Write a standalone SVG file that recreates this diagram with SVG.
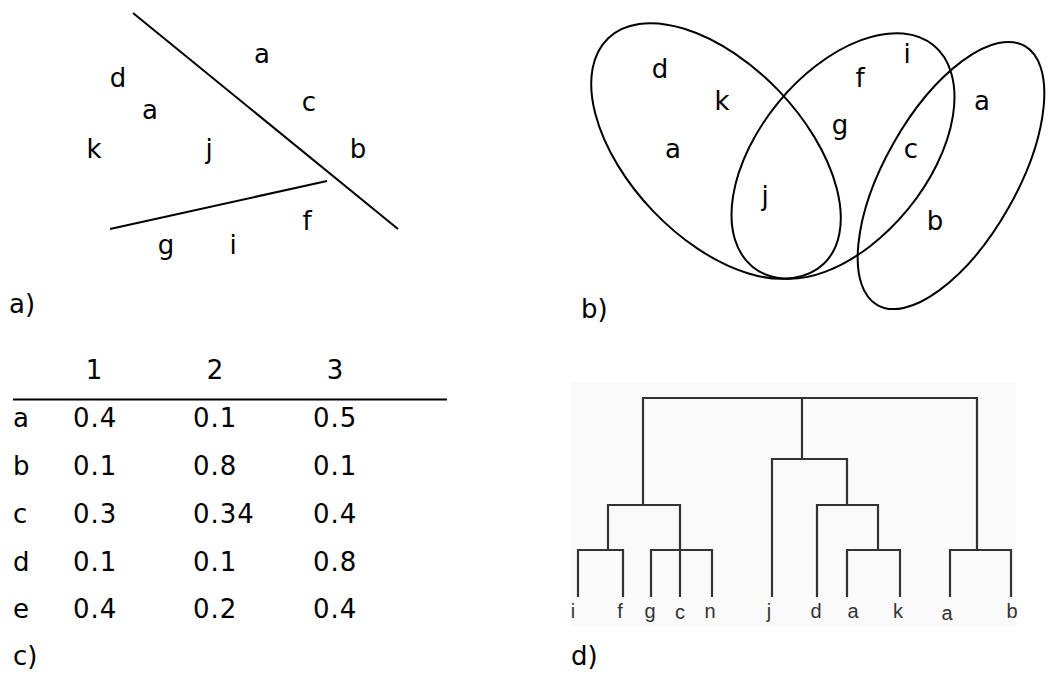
<svg xmlns="http://www.w3.org/2000/svg" width="1048" height="675" viewBox="0 0 1048 675">
<style>
.t{font-family:"DejaVu Sans",Verdana,sans-serif;font-size:26px;fill:#000}
.m{text-anchor:middle}
.n{letter-spacing:1px}
.ln{stroke:#000;stroke-width:2;fill:none}
.el{stroke:#000;stroke-width:2;fill:none}
.dg{stroke:#333;stroke-width:2.2;fill:none;stroke-linecap:square}
.dl{font-family:"Liberation Sans",Arial,sans-serif;font-size:20px;fill:#333;text-anchor:middle}
</style>
<rect width="1048" height="675" fill="#fff"/>

<g id="panel-a">
  <g id="a-lines">
    <line class="ln" x1="133" y1="13" x2="398" y2="229"/>
    <line class="ln" x1="110" y1="229" x2="327" y2="181"/>
  </g>
  <g id="a-labels" class="t m">
    <text x="262" y="63">a</text>
    <text x="118" y="87">d</text>
    <text x="309" y="111">c</text>
    <text x="150" y="119">a</text>
    <text x="94" y="158">k</text>
    <text x="209" y="158">j</text>
    <text x="358" y="158">b</text>
    <text x="307" y="230">f</text>
    <text x="166" y="254">g</text>
    <text x="233" y="254">i</text>
  </g>
  <text class="t" x="9" y="313">a)</text>
</g>

<g id="panel-b">
  <g id="b-sets">
    <ellipse id="set1" class="el" cx="716" cy="151" rx="156" ry="87" transform="rotate(46.3 716 151)"/>
    <ellipse id="set2" class="el" cx="843" cy="156" rx="143" ry="84" transform="rotate(-50.7 843 156)"/>
    <ellipse id="set3" class="el" cx="951" cy="175.5" rx="149" ry="66" transform="rotate(-60.4 951 175.5)"/>
  </g>
  <g id="b-labels" class="t m">
    <text x="660" y="78">d</text>
    <text x="722" y="110">k</text>
    <text x="673" y="158">a</text>
    <text x="765" y="205">j</text>
    <text x="860" y="87">f</text>
    <text x="907" y="63">i</text>
    <text x="840" y="134">g</text>
    <text x="911" y="158">c</text>
    <text x="982" y="110">a</text>
    <text x="935" y="230">b</text>
  </g>
  <text class="t" x="581" y="318">b)</text>
</g>

<g id="panel-c" class="t">
  <g id="c-header" class="m">
    <text x="94" y="379">1</text>
    <text x="215" y="379">2</text>
    <text x="335" y="379">3</text>
  </g>
  <line x1="13" y1="399.5" x2="447" y2="399.5" stroke="#000" stroke-width="2"/>
  <g id="row-a"><text x="13" y="427">a</text><text class="n" x="73" y="427">0.4</text><text class="n" x="193" y="427">0.1</text><text class="n" x="313" y="427">0.5</text></g>
  <g id="row-b"><text x="13" y="475">b</text><text class="n" x="73" y="475">0.1</text><text class="n" x="193" y="475">0.8</text><text class="n" x="313" y="475">0.1</text></g>
  <g id="row-c"><text x="13" y="523">c</text><text class="n" x="73" y="523">0.3</text><text class="n" x="193" y="523">0.34</text><text class="n" x="313" y="523">0.4</text></g>
  <g id="row-d"><text x="13" y="571">d</text><text class="n" x="73" y="571">0.1</text><text class="n" x="193" y="571">0.1</text><text class="n" x="313" y="571">0.8</text></g>
  <g id="row-e"><text x="13" y="618">e</text><text class="n" x="73" y="618">0.4</text><text class="n" x="193" y="618">0.2</text><text class="n" x="313" y="618">0.4</text></g>
  <text x="13" y="665">c)</text>
</g>

<g id="panel-d">
  <rect x="571" y="382" width="445" height="245" fill="#fafafa"/>
  <g id="connectors" class="dg">
    <path d="M643 398H977M802 398V459M643 398V505M977 398V550"/>
    <path d="M608 505H680M608 505V550M680 505V596"/>
    <path d="M578 550H623M578 550V596M623 550V596"/>
    <path d="M651 550H712M651 550V596M712 550V596"/>
    <path d="M772 459H847M772 459V596M847 459V505"/>
    <path d="M817 505H878M817 505V596M878 505V550"/>
    <path d="M847 550H900M847 550V596M900 550V596"/>
    <path d="M950 550H1011M950 550V596M1011 550V596"/>
  </g>
  <g id="leaf-i"><text class="dl" x="573" y="618">i</text></g>
  <g id="leaf-f"><text class="dl" x="620" y="618">f</text></g>
  <g id="leaf-g"><text class="dl" x="650" y="618">g</text></g>
  <g id="leaf-c"><text class="dl" x="680" y="619">c</text></g>
  <g id="leaf-n"><text class="dl" x="710" y="618">n</text></g>
  <g id="leaf-j"><text class="dl" x="769" y="618">j</text></g>
  <g id="leaf-d"><text class="dl" x="816" y="618">d</text></g>
  <g id="leaf-a1"><text class="dl" x="853" y="618">a</text></g>
  <g id="leaf-k"><text class="dl" x="898" y="618">k</text></g>
  <g id="leaf-a2"><text class="dl" x="947" y="620">a</text></g>
  <g id="leaf-b"><text class="dl" x="1012" y="618">b</text></g>
  <text class="t" x="571" y="665">d)</text>
</g>
</svg>
